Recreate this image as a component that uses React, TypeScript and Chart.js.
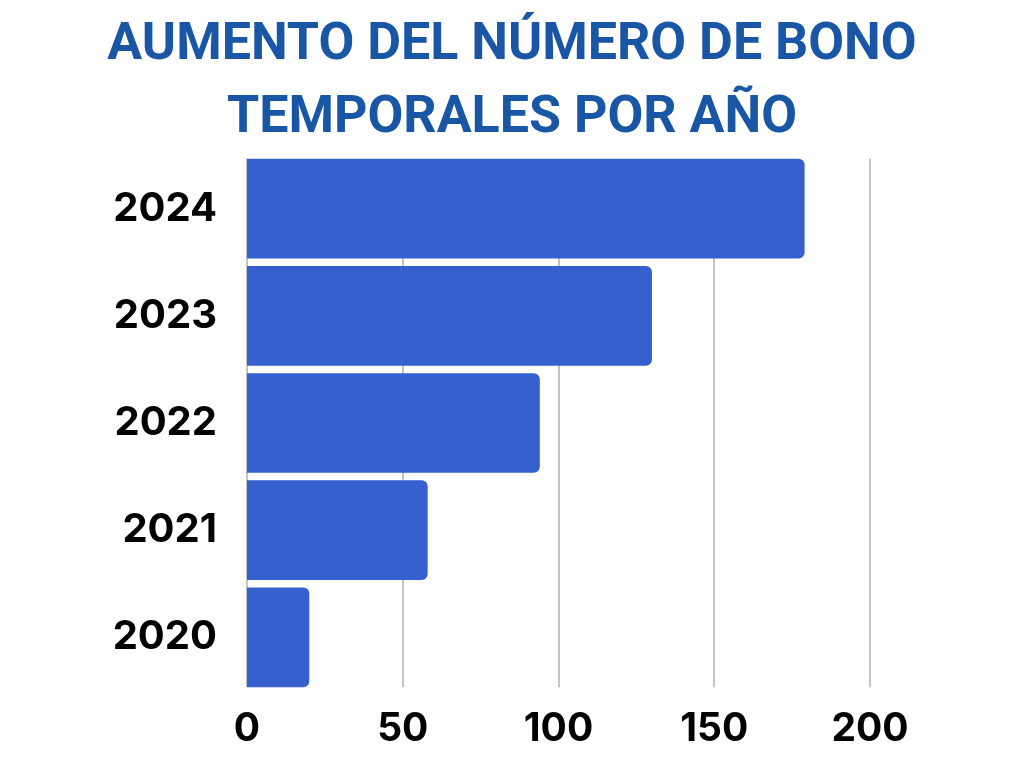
import React, { useEffect, useRef } from "react";
import { Chart, registerables } from "chart.js";
Chart.register(...registerables);

const years = ["2024", "2023", "2022", "2021", "2020"];
const bonos = [179, 130, 94, 58, 20];
const xTicks = [0, 50, 100, 150, 200];
const titleLines = ["AUMENTO DEL NÚMERO DE BONO", "TEMPORALES POR AÑO"];

const BAR_COLOR = "#3560CD";
const TITLE_COLOR = "#1A56A6";
const GRID_COLOR = "#c4c4c4";

const gridPlugin = {
  id: "customGrid",
  beforeDatasetsDraw(chart: any) {
    const { ctx, scales } = chart;
    const meta = chart.getDatasetMeta(0);
    const first = meta.data[0] as any;
    const last = meta.data[meta.data.length - 1] as any;
    const top = first.y - first.height / 2;
    const bottom = last.y + last.height / 2;
    ctx.save();
    ctx.strokeStyle = GRID_COLOR;
    ctx.lineWidth = 2;
    xTicks.forEach((v) => {
      const x = Math.round(scales.x.getPixelForValue(v));
      ctx.beginPath();
      ctx.moveTo(x, Math.min(top, bottom));
      ctx.lineTo(x, Math.max(top, bottom));
      ctx.stroke();
    });
    ctx.restore();
  },
};

export default function App() {
  const ref = useRef<HTMLCanvasElement>(null);
  useEffect(() => {
    const chart = new Chart(ref.current!, {
      type: "bar",
      data: {
        labels: years,
        datasets: [
          {
            data: bonos,
            backgroundColor: BAR_COLOR,
            borderRadius: 6,
            borderSkipped: "start",
            categoryPercentage: 0.93,
            barPercentage: 1,
          },
        ],
      },
      options: {
        indexAxis: "y",
        animation: false,
        responsive: false,
        maintainAspectRatio: false,
        layout: { padding: 0 },
        plugins: {
          legend: { display: false },
          tooltip: { enabled: false },
          title: {
            display: true,
            text: titleLines,
            color: TITLE_COLOR,
            font: { family: "Roboto", weight: "bold", size: 52, lineHeight: 1.404 },
            padding: { top: 9, bottom: 0 },
          },
        },
        scales: {
          x: {
            min: 0,
            max: 200,
            ticks: {
              stepSize: 50,
              color: "#000",
              padding: 7,
              font: { family: "Inter", weight: "bold", size: 39 },
            },
            grid: { display: false },
            border: { display: false },
            afterFit(scale: any) {
              scale.height = 77;
            },
          },
          y: {
            ticks: {
              color: "#000",
              padding: 22,
              font: { family: "Inter", weight: "bold", size: 40 },
            },
            grid: { display: false },
            border: { display: false },
            afterFit(scale: any) {
              scale.width = 247;
            },
          },
          yRight: {
            position: "right",
            display: true,
            ticks: { display: false },
            grid: { display: false },
            border: { display: false },
            afterFit(scale: any) {
              scale.width = 154;
            },
          },
        },
      },
      plugins: [gridPlugin],
    });
    return () => chart.destroy();
  }, []);
  return (
    <div style={{ position: "fixed", left: 0, top: 0, width: 1024, height: 768, background: "#fff" }}>
      <canvas ref={ref} width={1024} height={768} style={{ display: "block" }} />
    </div>
  );
}
